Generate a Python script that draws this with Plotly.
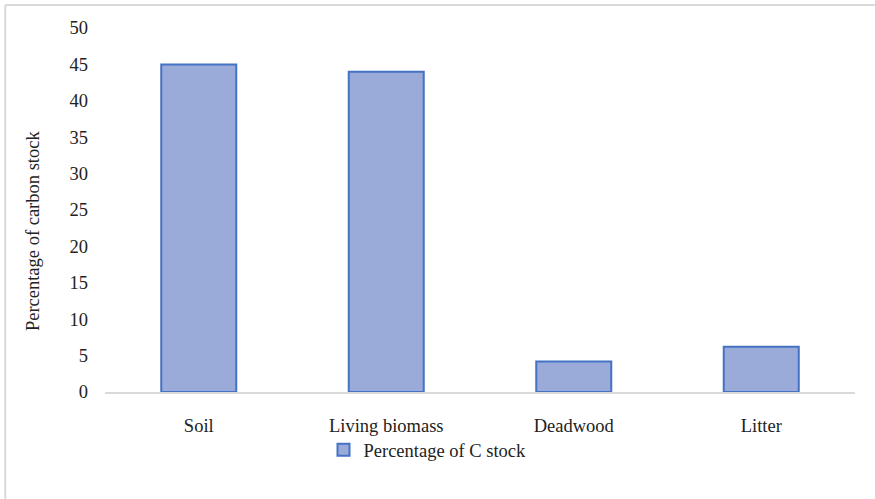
import plotly.graph_objects as go

categories = ["Soil", "Living biomass", "Deadwood", "Litter"]
carbon_share = [45, 44, 4.2, 6.2]
series_name = "Percentage of C stock"
y_title = "Percentage of carbon stock"
y_ticks = [0, 5, 10, 15, 20, 25, 30, 35, 40, 45, 50]

FONT = "Liberation Serif, Times New Roman, serif"
TEXT = "#222222"

fig = go.Figure()
fig.add_trace(go.Bar(
    x=categories,
    y=carbon_share,
    name=series_name,
    marker=dict(color="#9AAAD9", line=dict(color="#4472C4", width=2)),
    showlegend=True,
))

fig.update_layout(
    width=875, height=499,
    margin=dict(l=105, r=20, t=28, b=107),
    paper_bgcolor="white", plot_bgcolor="white",
    font=dict(family=FONT, size=18.5, color=TEXT),
    bargap=0.6,
    showlegend=True,
    legend=dict(orientation="h", x=0.43, xanchor="center", y=-0.16, yanchor="middle",
                font=dict(family=FONT, size=18.5, color=TEXT),
                itemwidth=30, bgcolor="rgba(0,0,0,0)"),
    xaxis=dict(showgrid=False, showline=True, linecolor="#D9D9D9", linewidth=2,
               ticks="", ticklabelstandoff=16, zeroline=False),
    yaxis=dict(range=[0, 50], tickvals=y_ticks, showgrid=False, showline=False,
               zeroline=False, ticks="", ticklabelstandoff=16),
    annotations=[
        dict(text=y_title, textangle=-90, xref="paper", yref="paper",
             x=-0.096, y=0.442, xanchor="center", yanchor="middle", showarrow=False,
             font=dict(family=FONT, size=18.5, color=TEXT)),
    ],
    shapes=[
        dict(type="line", xref="paper", yref="paper", x0=-0.133, x1=1.05, y0=1.063, y1=1.063,
             line=dict(color="#D9D9D9", width=2)),
        dict(type="line", xref="paper", yref="paper", x0=-0.133, x1=-0.133, y0=1.063, y1=-0.3,
             line=dict(color="#D9D9D9", width=2)),
    ],
)

fig.write_html("out.html")
